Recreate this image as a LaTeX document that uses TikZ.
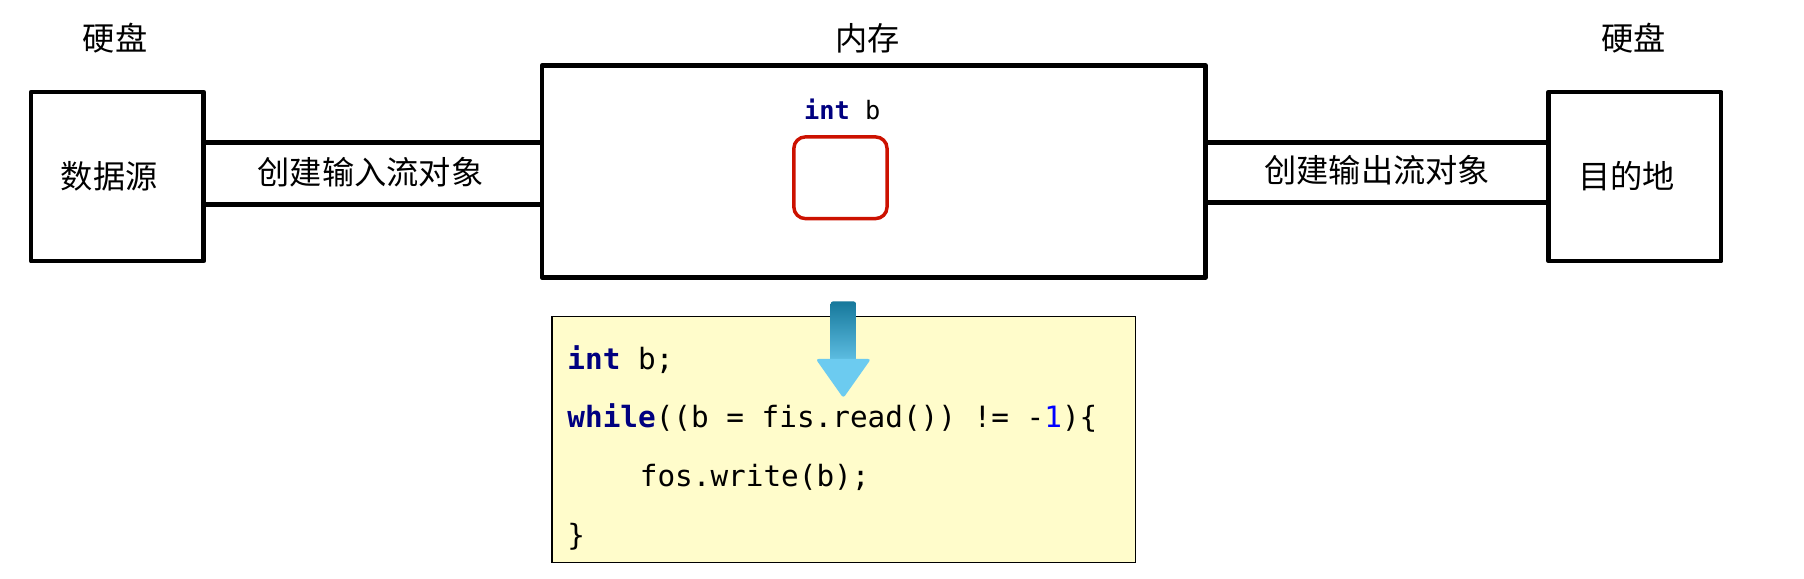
\documentclass[tikz,border=0pt]{standalone}
\usepackage{fontspec}
\newfontfamily\cjk{Noto Sans CJK SC}
\setmonofont{DejaVu Sans Mono}
\usetikzlibrary{positioning}
\definecolor{kwblue}{HTML}{000080}
\definecolor{numblue}{HTML}{0000FF}
\definecolor{codebg}{HTML}{FFFCCB}
\definecolor{redbox}{HTML}{CC1100}
\definecolor{arrowdark}{HTML}{16789B}
\definecolor{arrowlight}{HTML}{6CCBF0}
\tikzset{
  disk/.style={draw=black, line width=4pt, line join=round, minimum width=150pt, minimum height=147pt, inner sep=0pt},
  membox/.style={draw=black, line width=4pt, line join=round, minimum width=577pt, minimum height=184pt, inner sep=0pt},
  cjklabel/.style={inner sep=0pt, font=\cjk\fontsize{28}{32}\selectfont},
  band/.style={line width=4pt},
  cell/.style={draw=redbox, line width=3pt, rounded corners=10pt, minimum width=81pt, minimum height=71pt, inner sep=0pt},
  codebox/.style={draw=black, line width=1.5pt, fill=codebg, minimum width=507pt, minimum height=214pt, inner sep=0pt},
  code/.style={inner sep=0pt, anchor=base west, font=\ttfamily\fontsize{25.5}{30}\selectfont},
  memcode/.style={inner sep=0pt, anchor=base, font=\ttfamily\fontsize{22}{26}\selectfont},
}
\begin{document}
\begin{tikzpicture}[x=1pt, y=-1pt]
\useasboundingbox (0,0) rectangle (1568,502.4);
% boxes
\node[disk] (src) at (102,153.5) {};
\node[membox] (mem) at (759.5,149) {};
\node[disk] (dst) at (1421,153.5) {};
\node[cjklabel] (srcl) at (95,153) {数据源};
\node[cjklabel] (dstl) at (1414,153) {目的地};
% titles
\node[cjklabel] (t1) at (100,33) {硬盘};
\node[cjklabel] (t2) at (754,33) {内存};
\node[cjklabel] (t3) at (1420,33) {硬盘};
% bands
\coordinate (a1) at (0,124);
\coordinate (a2) at (0,178);
\coordinate (b1) at (0,124);
\coordinate (b2) at (0,176);
\draw[band] (src.east |- a1) -- (mem.west |- a1);
\draw[band] (src.east |- a2) -- (mem.west |- a2);
\draw[band] (mem.east |- b1) -- (dst.west |- b1);
\draw[band] (mem.east |- b2) -- (dst.west |- b2);
\node[cjklabel] (l1) at (322,150) {创建输入流对象};
\node[cjklabel] (l2) at (1197,148) {创建输出流对象};
% variable in memory
\node[memcode] (var) at (732,104) {\textbf{\color{kwblue}int} b};
\node[cell] (cellb) at (730.5,154.5) {};
% code box
\node[codebox] (cb) at (733.5,382) {};
\node[code] (c1) at (493,321) {\textbf{\color{kwblue}int} b;};
\node[code] (c2) at (493,372) {\textbf{\color{kwblue}while}((b = fis.read()) != -\textcolor{numblue}{1})\{};
\node[code] (c3) at (556,423) {fos.write(b);};
\node[code] (c4) at (493,474) {\}};
% arrow
\shade[top color=arrowdark, bottom color=arrowlight!85!arrowdark, rounded corners=2pt]
  (722,262) rectangle (744,314);
\fill[arrowlight, rounded corners=2.5pt] (709,312) -- (757,312) -- (733,346) -- cycle;
\end{tikzpicture}
\end{document}
